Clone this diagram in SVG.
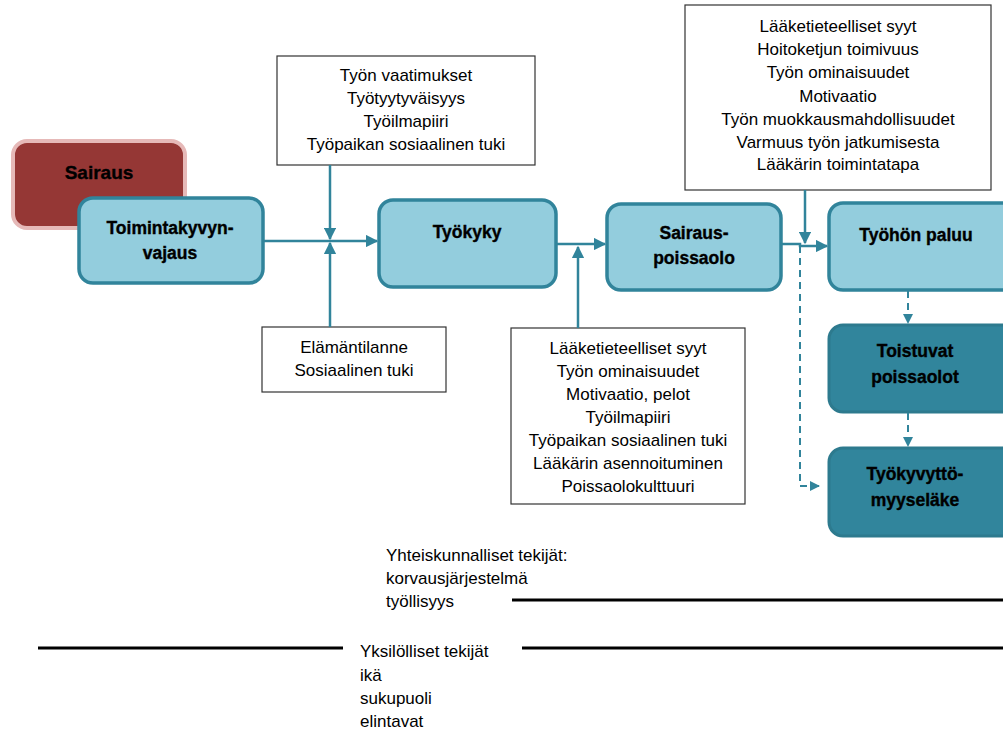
<svg xmlns="http://www.w3.org/2000/svg" width="1003" height="729" viewBox="0 0 1003 729">
  <defs>
    <marker id="arrow" viewBox="0 0 10 10" refX="9" refY="5" markerWidth="5" markerHeight="5" markerUnits="strokeWidth" orient="auto">
      <path d="M0,0 L10,5 L0,10 z" fill="#31849b"/>
    </marker>
  </defs>
  <style>
    .node-light { fill: #93cddd; stroke: #31849b; stroke-width: 3.5; }
    .node-dark { fill: #31859c; stroke: #2d7a8e; stroke-width: 3; }
    .node-red { fill: #953735; stroke: #e6b9b8; stroke-width: 4; }
    .label { font-family: "Liberation Sans", Arial, sans-serif; font-size: 17.5px; font-weight: bold; fill: #000; text-anchor: middle; stroke: #000; stroke-width: 0.35; }
    .label-big { font-size: 19px; }
    .factor-box { fill: #fff; stroke: #333; stroke-width: 1.2; }
    .factor { font-family: "Liberation Sans", Arial, sans-serif; font-size: 17px; fill: #000; text-anchor: middle; }
    .note { font-family: "Liberation Sans", Arial, sans-serif; font-size: 17px; fill: #000; }
    .conn { stroke: #31849b; stroke-width: 2.5; fill: none; }
    .dash { stroke: #31849b; stroke-width: 2; fill: none; stroke-dasharray: 7 5; }
    .rule { stroke: #000; stroke-width: 3; }
  </style>

  <!-- main chain nodes -->
  <g id="sairaus">
    <rect class="node-red" x="13" y="141" width="172" height="87" rx="14"/>
    <text class="label label-big" x="99" y="179">Sairaus</text>
  </g>
  <g id="toimintakyvynvajaus">
    <rect class="node-light" x="79" y="198" width="184" height="85" rx="14"/>
    <text class="label" x="170" y="234">Toimintakyvyn-</text>
    <text class="label" x="170" y="259">vajaus</text>
  </g>
  <g id="tyokyky">
    <rect class="node-light" x="379" y="200" width="177" height="87" rx="14"/>
    <text class="label" x="467" y="238">Työkyky</text>
  </g>
  <g id="sairauspoissaolo">
    <rect class="node-light" x="607" y="204" width="174" height="86" rx="14"/>
    <text class="label" x="694" y="239">Sairaus-</text>
    <text class="label" x="694" y="264">poissaolo</text>
  </g>
  <g id="tyohonpaluu">
    <rect class="node-light" x="829" y="203" width="190" height="87" rx="14"/>
    <text class="label" x="916" y="241">Työhön paluu</text>
  </g>
  <g id="toistuvat">
    <rect class="node-dark" x="829" y="325" width="190" height="87" rx="14"/>
    <text class="label" x="915" y="357">Toistuvat</text>
    <text class="label" x="915" y="383">poissaolot</text>
  </g>
  <g id="tyokyvyttomyyselake">
    <rect class="node-dark" x="829" y="448" width="190" height="88" rx="14"/>
    <text class="label" x="915" y="480">Työkyvyttö-</text>
    <text class="label" x="915" y="506">myyseläke</text>
  </g>

  <!-- factor boxes -->
  <g id="tyo-tekijat">
    <rect class="factor-box" x="277" y="56" width="258" height="109"/>
    <text class="factor" x="406" y="81">Työn vaatimukset</text>
    <text class="factor" x="406" y="104">Työtyytyväisyys</text>
    <text class="factor" x="406" y="127">Työilmapiiri</text>
    <text class="factor" x="406" y="150">Työpaikan sosiaalinen tuki</text>
  </g>
  <g id="elamantilanne">
    <rect class="factor-box" x="262" y="327" width="184" height="65"/>
    <text class="factor" x="354" y="353">Elämäntilanne</text>
    <text class="factor" x="354" y="376">Sosiaalinen tuki</text>
  </g>
  <g id="poissaolo-tekijat">
    <rect class="factor-box" x="511" y="328" width="234" height="176"/>
    <text class="factor" x="628" y="354">Lääketieteelliset syyt</text>
    <text class="factor" x="628" y="377">Työn ominaisuudet</text>
    <text class="factor" x="628" y="400">Motivaatio, pelot</text>
    <text class="factor" x="628" y="423">Työilmapiiri</text>
    <text class="factor" x="628" y="446">Työpaikan sosiaalinen tuki</text>
    <text class="factor" x="628" y="469">Lääkärin asennoituminen</text>
    <text class="factor" x="628" y="492">Poissaolokulttuuri</text>
  </g>
  <g id="paluu-tekijat">
    <rect class="factor-box" x="685" y="5" width="306" height="185"/>
    <text class="factor" x="838" y="32">Lääketieteelliset syyt</text>
    <text class="factor" x="838" y="55">Hoitoketjun toimivuus</text>
    <text class="factor" x="838" y="78">Työn ominaisuudet</text>
    <text class="factor" x="838" y="102">Motivaatio</text>
    <text class="factor" x="838" y="125">Työn muokkausmahdollisuudet</text>
    <text class="factor" x="838" y="148">Varmuus työn jatkumisesta</text>
    <text class="factor" x="838" y="170">Lääkärin toimintatapa</text>
  </g>

  <!-- connectors -->
  <g id="connectors">
    <line class="conn" x1="263" y1="241" x2="377" y2="241" marker-end="url(#arrow)"/>
    <line class="conn" x1="330" y1="165" x2="330" y2="239" marker-end="url(#arrow)"/>
    <line class="conn" x1="330" y1="327" x2="330" y2="243" marker-end="url(#arrow)"/>
    <line class="conn" x1="556" y1="244" x2="605" y2="244" marker-end="url(#arrow)"/>
    <line class="conn" x1="578" y1="328" x2="578" y2="247" marker-end="url(#arrow)"/>
    <polyline class="conn" points="781,244 800,244 800,246 827,246" marker-end="url(#arrow)"/>
    <line class="conn" x1="805" y1="190" x2="805" y2="243" marker-end="url(#arrow)"/>
    <polyline class="dash" points="800,246 800,486 819,486" marker-end="url(#arrow)"/>
    <line class="dash" x1="908" y1="291" x2="908" y2="323" marker-end="url(#arrow)"/>
    <line class="dash" x1="908" y1="413" x2="908" y2="446" marker-end="url(#arrow)"/>
  </g>

  <!-- societal and individual factors -->
  <g id="yhteiskunnalliset">
    <text class="note" x="386" y="561">Yhteiskunnalliset tekijät:</text>
    <text class="note" x="386" y="584">korvausjärjestelmä</text>
    <text class="note" x="386" y="607">työllisyys</text>
    <line class="rule" x1="512" y1="600" x2="1003" y2="600"/>
  </g>
  <g id="yksilolliset">
    <line class="rule" x1="38" y1="648" x2="343" y2="648"/>
    <line class="rule" x1="522" y1="648" x2="1003" y2="648"/>
    <text class="note" x="360" y="657">Yksilölliset tekijät</text>
    <text class="note" x="360" y="681">ikä</text>
    <text class="note" x="360" y="704">sukupuoli</text>
    <text class="note" x="360" y="727">elintavat</text>
  </g>
</svg>
